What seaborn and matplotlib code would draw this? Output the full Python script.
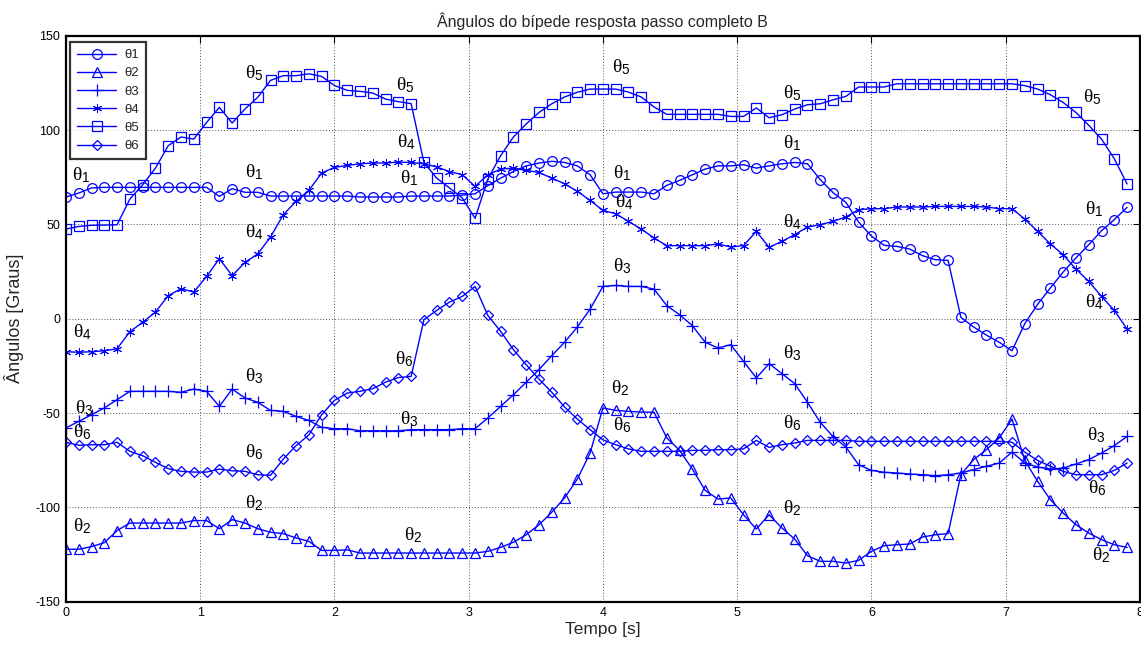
import numpy as np
import matplotlib
matplotlib.use("Agg")
import matplotlib.pyplot as plt
import seaborn as sns

# Sample times (uniform step of 4/42 s)
t = np.arange(84) * (4.0 / 42.0)

theta1 = [64.5, 66.6, 69.3, 69.6, 69.6, 69.6, 69.6, 69.6, 69.6, 69.6, 69.6, 69.6,
          64.8, 68.9, 67.0, 67.0, 65.0, 65.0, 65.0, 65.0, 65.0, 65.0, 65.0, 64.5,
          64.5, 64.5, 64.5, 65.0, 65.0, 65.0, 65.0, 65.5, 66.2, 70.5, 74.5, 78.0,
          81.0, 82.5, 83.4, 82.8, 81.0, 76.3, 66.2, 67.1, 67.1, 67.1, 66.2, 70.7,
          73.3, 76.3, 79.3, 81.0, 81.0, 81.6, 79.8, 81.0, 82.1, 82.8, 82.1, 73.7,
          66.8, 61.7, 51.2, 43.8, 38.9, 38.3, 36.9, 33.4, 31.3, 30.9, 0.7, -4.4,
          -8.7, -12.5, -17.0, -2.6, 7.6, 16.3, 24.7, 32.2, 39.2, 46.6, 52.5, 59.0]

theta2 = [-122.2, -122.2, -120.8, -118.7, -112.3, -108.3, -108.3, -108.3, -108.3, -108.3,
          -107.0, -107.0, -111.3, -106.5, -108.3, -111.3, -113.2, -113.9, -116.2, -118.0,
          -122.8, -122.8, -122.5, -124.2, -124.2, -124.2, -124.2, -124.2, -124.2, -124.2,
          -124.2, -124.2, -124.2, -123.3, -121.2, -118.5, -114.5, -109.2, -102.6, -95.0,
          -85.0, -71.2, -47.3, -48.6, -49.1, -49.5, -49.6, -63.2, -69.8, -79.7,
          -91.0, -95.6, -95.0, -103.9, -111.5, -103.9, -110.9, -116.8, -125.6, -128.6,
          -128.6, -129.5, -128.1, -123.3, -120.3, -119.8, -119.4, -115.7, -114.5, -113.9,
          -82.7, -74.7, -69.4, -63.2, -53.2, -75.1, -86.2, -95.9, -103.0, -109.2,
          -113.6, -117.1, -119.8, -121.2]

theta3 = [-57.9, -54.4, -50.9, -47.3, -42.9, -38.5, -38.5, -38.5, -38.5, -39.0,
          -37.3, -38.5, -46.5, -37.3, -42.0, -44.3, -48.6, -49.1, -51.8, -53.9,
          -57.6, -58.3, -58.3, -59.4, -59.4, -59.4, -59.4, -58.8, -58.8, -58.8,
          -58.8, -58.3, -58.3, -52.6, -46.5, -40.3, -33.7, -27.0, -19.6, -12.5,
          -4.4, 5.1, 17.1, 17.6, 17.1, 17.1, 15.7, 6.9, 2.1, -3.7,
          -12.5, -15.5, -13.8, -22.6, -31.4, -23.8, -29.1, -34.4, -44.3, -54.9,
          -62.5, -68.0, -77.4, -80.4, -81.4, -81.8, -82.3, -82.7, -83.2, -82.7,
          -81.8, -80.0, -78.2, -76.5, -70.7, -76.5, -78.6, -79.7, -79.2, -77.0,
          -74.7, -71.2, -67.3, -62.4]

theta4 = [-17.5, -17.8, -17.5, -17.0, -15.9, -6.9, -1.9, 3.5, 12.2, 15.9,
          14.1, 22.4, 31.8, 22.8, 29.8, 34.3, 43.3, 55.1, 62.2, 68.0,
          77.2, 80.2, 81.2, 82.1, 82.5, 82.5, 83.0, 82.8, 82.1, 80.4,
          78.0, 76.3, 70.1, 76.3, 79.3, 79.8, 78.6, 77.5, 74.5, 71.5,
          67.5, 62.7, 57.4, 55.6, 51.6, 47.5, 42.8, 38.7, 38.7, 38.7,
          38.7, 39.6, 38.0, 38.7, 46.3, 37.8, 41.0, 44.5, 48.6, 49.8,
          51.6, 53.9, 57.8, 58.3, 58.3, 59.2, 59.2, 59.2, 59.5, 59.5,
          59.5, 59.5, 59.2, 58.3, 58.3, 52.8, 46.3, 39.6, 33.9, 26.3,
          19.8, 11.8, 4.4, -5.5]

theta5 = [47.5, 48.9, 49.5, 49.6, 49.8, 63.4, 71.0, 79.8, 91.7, 96.3,
          95.2, 104.0, 112.0, 103.7, 111.1, 117.3, 126.3, 128.8, 128.8, 129.8,
          128.4, 123.6, 121.0, 120.5, 119.6, 116.4, 115.0, 114.0, 82.8, 74.5,
          69.3, 64.0, 53.2, 74.0, 86.4, 96.3, 103.2, 109.3, 113.9, 117.5,
          120.0, 121.7, 121.7, 121.7, 120.1, 117.5, 112.2, 108.3, 108.3, 108.3,
          108.3, 108.3, 107.2, 107.2, 111.7, 106.5, 108.1, 111.1, 113.4, 113.9,
          116.0, 117.8, 122.8, 122.8, 122.8, 124.5, 124.5, 124.5, 124.5, 124.5,
          124.5, 124.5, 124.5, 124.5, 124.5, 123.5, 121.7, 118.7, 114.6, 109.3,
          102.5, 95.2, 84.8, 71.4]

theta6 = [-65.5, -67.1, -66.8, -66.8, -65.5, -70.3, -72.6, -76.1, -79.5, -80.9,
          -81.3, -81.3, -79.7, -80.6, -80.9, -82.7, -83.0, -74.4, -67.3, -61.6,
          -50.9, -43.3, -39.4, -38.5, -37.1, -33.6, -31.2, -30.6, -0.5, 4.4,
          8.8, 11.8, 17.1, 1.7, -6.7, -16.4, -24.4, -32.0, -39.0, -46.8,
          -53.2, -58.8, -64.2, -66.8, -69.0, -70.3, -70.3, -70.3, -70.3, -69.8,
          -69.8, -69.4, -69.4, -69.0, -64.5, -68.2, -66.8, -65.9, -64.5, -64.5,
          -64.5, -64.5, -65.0, -65.0, -65.0, -65.0, -65.0, -65.0, -65.0, -65.0,
          -65.0, -65.0, -65.0, -65.0, -65.5, -70.7, -75.1, -78.2, -80.9, -82.7,
          -82.7, -82.7, -80.4, -76.5]

series_names = ["θ1", "θ2", "θ3", "θ4", "θ5", "θ6"]
series_values = [theta1, theta2, theta3, theta4, theta5, theta6]
series_markers = ["o", "^", "+", (6, 2, 0), "s", "D"]
series_msize = [7, 7.5, 8, 6.5, 7, 5.5]
series_mew = [0.9, 0.9, 0.9, 0.7, 0.9, 0.9]

# Curve annotations: (series index, time, angle)
annotations = [
    (5, 1.333, 130.4), (5, 2.458, 124.0), (5, 4.067, 133.5), (5, 5.341, 119.8), (5, 7.575, 117.6),
    (1, 0.045, 76.3), (1, 1.333, 77.9), (1, 2.488, 74.7), (1, 4.074, 77.4), (1, 5.341, 93.3), (1, 7.590, 57.8),
    (4, 2.466, 93.8), (4, 1.333, 46.1), (4, 4.089, 62.0), (4, 5.341, 51.4), (4, 0.052, -6.9), (4, 7.590, 9.0),
    (3, 0.067, -47.2), (3, 1.333, -30.7), (3, 4.074, 27.6), (3, 2.488, -53.5), (3, 5.341, -18.0), (3, 7.605, -61.5),
    (6, 0.052, -59.9), (6, 2.451, -21.7), (6, 1.333, -70.5), (6, 4.074, -56.2), (6, 5.341, -55.1), (6, 7.613, -89.6),
    (2, 0.052, -110.2), (2, 1.333, -97.5), (2, 2.518, -114.5), (2, 4.060, -36.6), (2, 5.341, -100.2), (2, 7.642, -125.1),
]

sns.set_theme(style="white")
plt.rcParams["font.family"] = ["Liberation Sans", "DejaVu Sans"]
plt.rcParams["axes.unicode_minus"] = False
plt.rcParams["mathtext.fontset"] = "custom"
plt.rcParams["mathtext.rm"] = "Liberation Sans"
plt.rcParams["mathtext.it"] = "Liberation Serif"
plt.rcParams["mathtext.bf"] = "Liberation Sans:bold"

fig = plt.figure(figsize=(11.41, 6.45), dpi=100)
ax = fig.add_axes([0.0578, 0.0671, 0.9412, 0.8776])

blue = (0.0, 0.0, 1.0)
for name, vals, mk, ms, mew in zip(series_names, series_values, series_markers,
                                   series_msize, series_mew):
    sns.lineplot(x=t, y=vals, ax=ax, color=blue, linewidth=1.0, marker=mk,
                 markersize=ms, markerfacecolor="none", markeredgecolor=blue,
                 markeredgewidth=mew, label=name, sort=False)

for idx, x, y in annotations:
    ax.text(x, y, r"$\theta_\mathrm{%d}$" % idx, fontsize=14, color="black",
            ha="left", va="center")

ax.set_xlim(0, 8)
ax.set_ylim(-150, 150)
ax.set_xticks(range(0, 9))
ax.set_yticks(range(-150, 151, 50))
ax.grid(True, color="#555555", linestyle=(0, (1, 2)), linewidth=0.7)
ax.tick_params(direction="in", length=5, width=0.8, top=True, right=True,
               labelsize=9, colors="black", pad=4)
for sp in ax.spines.values():
    sp.set_color("black")
    sp.set_linewidth(1.6)

ax.set_title("Ângulos do bípede resposta passo completo B", fontsize=11.5, pad=6)
ax.set_xlabel("Tempo [s]", fontsize=12.5, labelpad=2)
ax.set_ylabel("Ângulos [Graus]", fontsize=13, labelpad=8)

leg = ax.legend(loc="upper left", bbox_to_anchor=(0.004, 0.988), borderaxespad=0,
                fontsize=9.5, frameon=True, fancybox=False, edgecolor="black",
                handlelength=3.0, handletextpad=0.6, labelspacing=0.45,
                borderpad=0.5)
leg.get_frame().set_linewidth(1.6)

fig.savefig("out.png", dpi=100)
